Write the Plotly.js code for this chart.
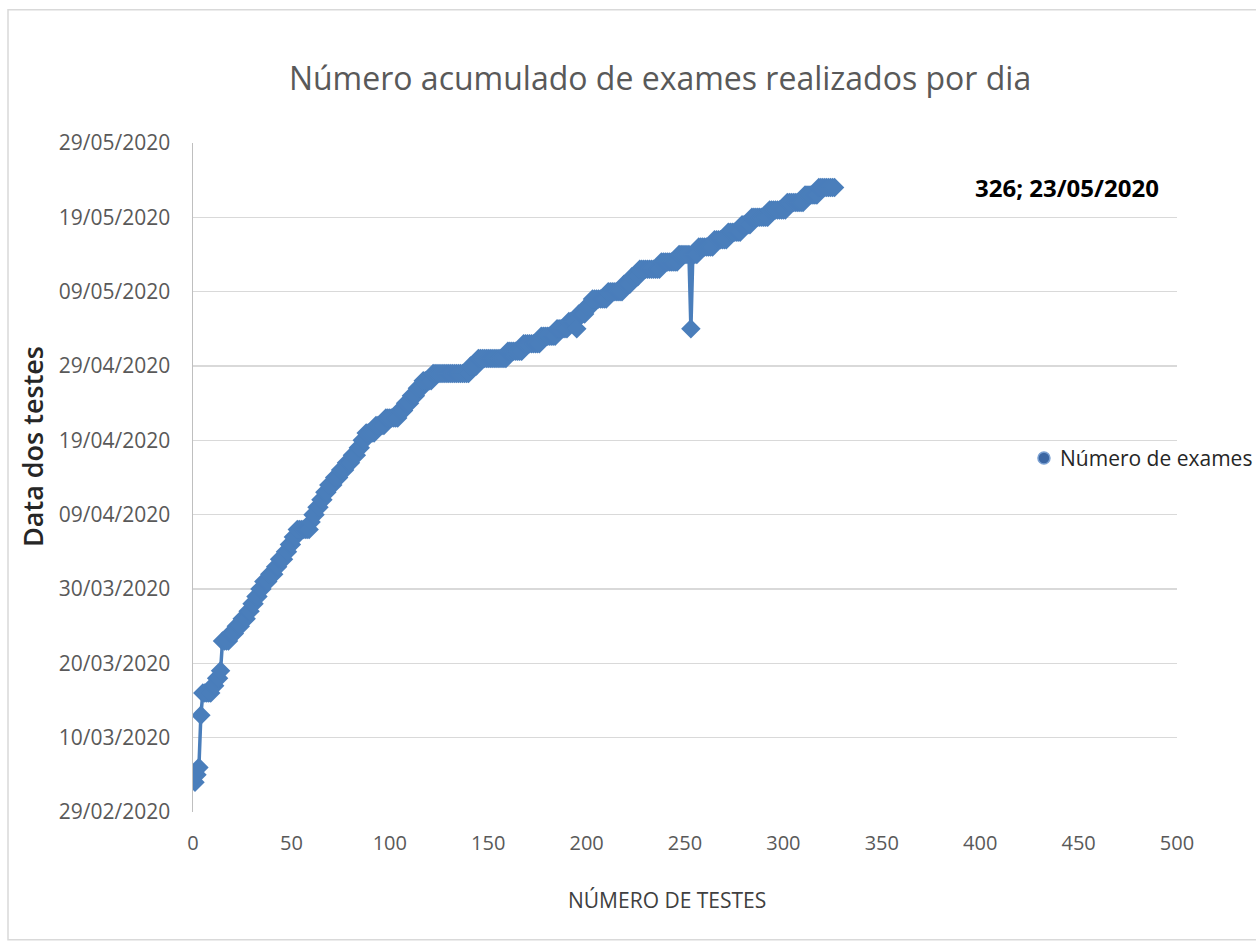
<!DOCTYPE html>
<html>
<head>
<meta charset="utf-8">
<script src="https://cdn.plot.ly/plotly-3.0.1.min.js"></script>
<style>
  html, body { margin: 0; padding: 0; background: #ffffff; overflow: hidden; }
  #chart { width: 1256px; height: 945px; }
</style>
</head>
<body>
<div id="chart"></div>
<script>
// Date of each run of consecutive tests (same day), in test order
const runDates = [
  '2020-03-04','2020-03-05','2020-03-06','2020-03-13','2020-03-16','2020-03-17','2020-03-18','2020-03-19',
  '2020-03-23','2020-03-24','2020-03-25','2020-03-26','2020-03-27','2020-03-28','2020-03-29','2020-03-30',
  '2020-03-31','2020-04-01','2020-04-02','2020-04-03','2020-04-04','2020-04-05','2020-04-06','2020-04-07',
  '2020-04-08','2020-04-09','2020-04-10','2020-04-11','2020-04-12','2020-04-13','2020-04-14','2020-04-15',
  '2020-04-16','2020-04-17','2020-04-18','2020-04-19','2020-04-20','2020-04-21','2020-04-22','2020-04-23',
  '2020-04-24','2020-04-25','2020-04-26','2020-04-27','2020-04-28','2020-04-29','2020-04-30','2020-05-01',
  '2020-05-02','2020-05-03','2020-05-04','2020-05-05','2020-05-04','2020-05-06','2020-05-07','2020-05-08',
  '2020-05-09','2020-05-10','2020-05-11','2020-05-12','2020-05-13','2020-05-14','2020-05-04','2020-05-14',
  '2020-05-15','2020-05-16','2020-05-17','2020-05-18','2020-05-19','2020-05-20','2020-05-21','2020-05-22',
  '2020-05-23'
];
// Cumulative test number at the end of each run
const runEnds = [
  1, 2, 3, 4, 9, 11, 13, 14,
  18, 21, 24, 27, 29, 31, 33, 35,
  38, 41, 43, 46, 48, 50, 52, 59,
  60, 62, 64, 66, 68, 71, 74, 77,
  80, 83, 85, 87, 92, 97, 104, 107,
  110, 113, 116, 121, 140, 144, 159, 167,
  176, 184, 190, 194, 195, 199, 202, 210,
  218, 222, 226, 237, 246, 252, 253, 256,
  264, 271, 278, 283, 292, 301, 310, 317,
  326
];
const xTicks = [0, 50, 100, 150, 200, 250, 300, 350, 400, 450, 500];
const seriesName = 'Número de exames';
const chartTitle = 'Número acumulado de exames realizados por dia';
const xTitle = 'NÚMERO DE TESTES';
const yTitle = 'Data dos testes';

// one point per test
const testNum = [], testDate = [];
let prev = 0;
for (let i = 0; i < runEnds.length; i++) {
  for (let n = prev + 1; n <= runEnds[i]; n++) { testNum.push(n); testDate.push(runDates[i]); }
  prev = runEnds[i];
}
const lastN = testNum[testNum.length - 1];
const lastD = testDate[testDate.length - 1];
const lastLabel = lastN + '; ' + lastD.slice(8, 10) + '/' + lastD.slice(5, 7) + '/' + lastD.slice(0, 4);

const blue = '#4a7ebb';
const traces = [
  {
    type: 'scatter', mode: 'lines+markers', x: testNum, y: testDate, name: seriesName,
    line: { color: blue, width: 3.5 },
    marker: { symbol: 'diamond', size: 15, color: blue, line: { width: 0 } },
    showlegend: false, hoverinfo: 'x+y'
  }
];

const layout = {
  width: 1256, height: 945,
  margin: { l: 193, r: 79, t: 143, b: 133 },
  paper_bgcolor: '#ffffff', plot_bgcolor: '#ffffff',
  font: { family: 'Open Sans, sans-serif', color: '#595959' },
  showlegend: false,
  title: {
    text: chartTitle,
    font: { family: 'Open Sans, sans-serif', size: 32, color: '#595959' },
    xref: 'container', x: 0.5255, xanchor: 'center', yref: 'container', y: 0.917, yanchor: 'middle'
  },
  xaxis: {
    range: [0, 500], tickvals: xTicks, ticktext: xTicks.map(String),
    showgrid: false, zeroline: false, showline: false,
    ticks: 'outside', ticklen: 13, tickcolor: 'rgba(0,0,0,0)',
    tickfont: { size: 20, color: '#595959' },
    automargin: false, fixedrange: true
  },
  yaxis: {
    type: 'date', range: ['2020-02-29', '2020-05-29'],
    tick0: '2020-02-29', dtick: 10 * 86400000, tickformat: '%d/%m/%Y',
    showgrid: true, gridcolor: '#d9d9d9', gridwidth: 1.5, zeroline: false,
    showline: true, linecolor: '#bfbfbf', linewidth: 1.5,
    ticks: 'outside', ticklen: 17, tickcolor: 'rgba(0,0,0,0)',
    tickfont: { size: 21, color: '#595959' },
    automargin: false, fixedrange: true
  },
  annotations: [
    {
      x: 444, y: lastD, xref: 'x', yref: 'y', text: '<b>' + lastLabel + '</b>',
      showarrow: false, font: { size: 24, color: '#000000' }, xanchor: 'center', yanchor: 'middle'
    },
    {
      x: 0.4817, y: -0.1315, xref: 'paper', yref: 'paper', text: xTitle,
      showarrow: false, font: { size: 21, color: '#404040' }, xanchor: 'center', yanchor: 'middle'
    },
    {
      x: -0.1626, y: 0.5456, xref: 'paper', yref: 'paper', text: yTitle, textangle: -90,
      showarrow: false, font: { size: 27, color: '#262626', weight: 600 }, xanchor: 'center', yanchor: 'middle'
    },
    {
      x: 0.879, y: 0.5291, xref: 'paper', yref: 'paper', text: seriesName,
      showarrow: false, font: { size: 21, color: '#262626' }, xanchor: 'left', yanchor: 'middle'
    }
  ],
  shapes: [
    {
      type: 'rect', xref: 'paper', yref: 'paper',
      x0: -0.188, x1: 1.09, y0: -0.191, y1: 1.199,
      line: { color: '#d9d9d9', width: 1.5 }, fillcolor: 'rgba(0,0,0,0)', layer: 'below'
    },
    {
      type: 'circle', xref: 'paper', yref: 'paper', xsizemode: 'pixel', ysizemode: 'pixel',
      xanchor: 0.8648, yanchor: 0.5291, x0: -6, x1: 6, y0: -6, y1: 6,
      fillcolor: '#3b66a3', line: { color: '#7aa0d2', width: 1.5 }
    }
  ]
};

Plotly.newPlot('chart', traces, layout, { displayModeBar: false, staticPlot: true });
</script>
</body>
</html>
